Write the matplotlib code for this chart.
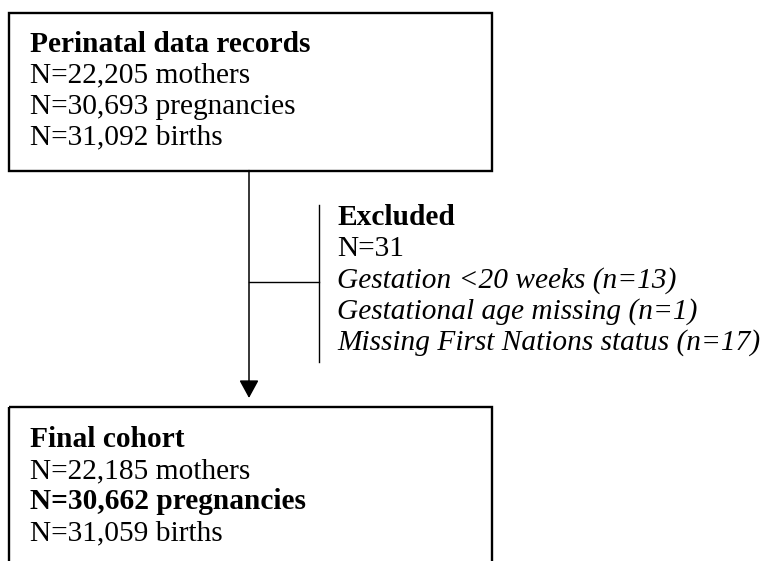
import matplotlib
matplotlib.use("Agg")
import matplotlib.pyplot as plt
from matplotlib.patches import Rectangle

# ---- content ----
top_title = "Perinatal data records"
top_lines = ["N=22,205 mothers", "N=30,693 pregnancies", "N=31,092 births"]

excl_title = "Excluded"
excl_total = "N=31"
excl_reasons = ["Gestation <20 weeks (n=13)",
                "Gestational age missing (n=1)",
                "Missing First Nations status (n=17)"]

final_title = "Final cohort"
final_lines = ["N=22,185 mothers", "N=30,662 pregnancies", "N=31,059 births"]
final_bold = [False, True, False]

# ---- layout (pixels) ----
W, H = 768, 561
FONT = "Liberation Serif"
FS = 21.2

fig = plt.figure(figsize=(W / 100, H / 100), dpi=100)
ax = fig.add_axes([0, 0, 1, 1])
ax.set_xlim(0, W)
ax.set_ylim(H, 0)
ax.axis("off")

box_l, box_r = 8.5, 491.5
top_t, top_b = 12.5, 170.5
bot_t = 406.5
stem_x = 249
branch_y = 282
bracket_x = 319
bracket_t, bracket_b = 205, 362

# top box
ax.add_patch(Rectangle((box_l, top_t), box_r - box_l, top_b - top_t,
                       fill=False, ec="black", lw=1.7))
# bottom box (cut off by figure edge)
ax.add_patch(Rectangle((box_l, bot_t), box_r - box_l, 200,
                       fill=False, ec="black", lw=1.7, clip_on=True))

# connector with arrow
ax.annotate("", xy=(stem_x, 398), xytext=(stem_x, top_b),
            arrowprops=dict(arrowstyle="-|>,head_length=11,head_width=6",
                            mutation_scale=1, lw=1.1, color="black",
                            shrinkA=0, shrinkB=0))
# branch
ax.plot([stem_x, bracket_x], [branch_y, branch_y], color="black", lw=1.0)
ax.plot([bracket_x, bracket_x], [bracket_t, bracket_b], color="black", lw=1.0)

def block(x, y0, title, lines, ls, bold=None, italic_from=None):
    ax.text(x, y0, title, fontsize=FS, family=FONT, fontweight="bold",
            va="baseline", ha="left")
    for i, s in enumerate(lines):
        b = bold[i] if bold else False
        it = italic_from is not None and i >= italic_from
        ax.text(x, y0 + ls * (i + 1), s, fontsize=FS, family=FONT,
                fontweight="bold" if b else "normal",
                style="italic" if it else "normal",
                va="baseline", ha="left")

block(30, 52, top_title, top_lines, 30.8)
block(337, 224.5, excl_title, [excl_total] + excl_reasons, 31.4, italic_from=1)
block(30, 447, final_title, final_lines, 31.0, bold=final_bold)

fig.savefig("out.png", dpi=100)
